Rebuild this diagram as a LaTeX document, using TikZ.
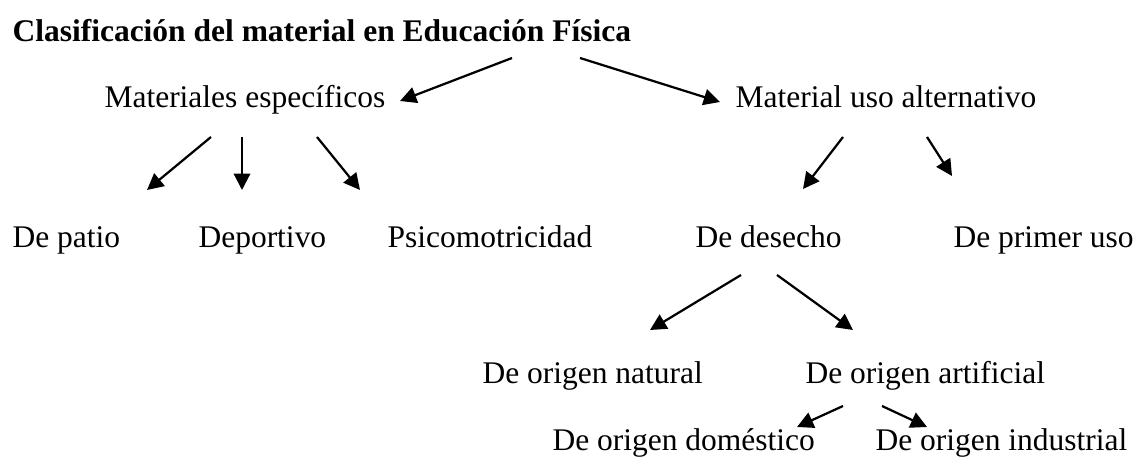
\documentclass[tikz,border=0pt]{standalone}
\usepackage{fontspec}
\setmainfont{Liberation Serif}
\usetikzlibrary{arrows.meta,calc}

\begin{document}
\begin{tikzpicture}[x=0.381pt, y=-0.381pt,
  lbl/.style={inner sep=0pt, anchor=base west, font=\fontsize{12}{14}\selectfont},
  arr/.style={line width=0.85pt, -{Triangle[length=6.2pt,width=6.2pt]}}]
\useasboundingbox (0,0) rectangle (1143,458);
% Titulo
\node[lbl, font=\fontsize{12}{14}\selectfont\bfseries] (titulo) at (12,42) {Clasificación del material en Educación Física};
% Niveles
\node[lbl] (espec) at (104,108) {Materiales específicos};
\node[lbl] (alter) at (735,108) {Material uso alternativo};
\node[lbl] (patio) at (12,248) {De patio};
\node[lbl] (depor) at (198,248) {Deportivo};
\node[lbl] (psico) at (387,248) {Psicomotricidad};
\node[lbl] (desec) at (695,248) {De desecho};
\node[lbl] (prime) at (953,248) {De primer uso};
\node[lbl] (natur) at (482,384) {De origen natural};
\node[lbl] (artif) at (805,384) {De origen artificial};
\node[lbl] (domes) at (552,451) {De origen doméstico};
\node[lbl] (indus) at (875,451) {De origen industrial};
% Flechas
\draw[arr] ($(titulo.base west)+(500,16)$) -- ($(espec.base west)+(296,-7)$);
\draw[arr] ($(titulo.base west)+(568,16)$) -- ($(alter.base west)+(-15,-6)$);
\draw[arr] ($(espec.base west)+(107,29)$) -- ($(patio.base west)+(135,-58)$);
\draw[arr] ($(espec.base west)+(138,29)$) -- ($(depor.base west)+(44,-58)$);
\draw[arr] ($(espec.base west)+(213,29)$) -- ($(psico.base west)+(-27,-58)$);
\draw[arr] ($(alter.base west)+(108,29)$) -- ($(desec.base west)+(108,-59)$);
\draw[arr] ($(alter.base west)+(192,29)$) -- ($(prime.base west)+(-1,-72)$);
\draw[arr] ($(desec.base west)+(46,27)$) -- ($(natur.base west)+(168,-54)$);
\draw[arr] ($(desec.base west)+(82,27)$) -- ($(artif.base west)+(48,-54)$);
\draw[arr] ($(artif.base west)+(38,22)$) -- ($(domes.base west)+(245,-24)$);
\draw[arr] ($(artif.base west)+(77,22)$) -- ($(indus.base west)+(52,-24)$);
\end{tikzpicture}
\end{document}
